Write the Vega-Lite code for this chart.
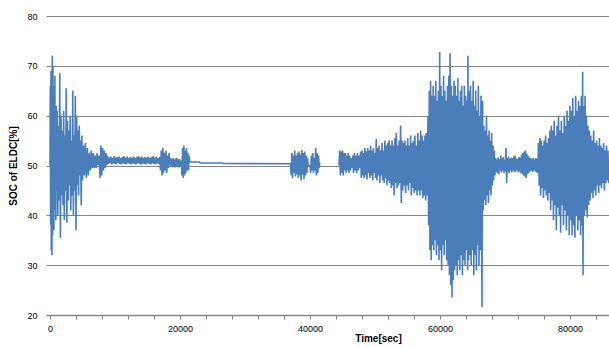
{
"$schema": "https://vega.github.io/schema/vega-lite/v6.json",
"width": 563, "height": 299,
"autosize": {"type": "none"},
"padding": {"left": 46, "top": 16, "right": 0, "bottom": 32},
"config": {"view": {"stroke": null}, "font": "Liberation Sans"},
"data": {"values": [
{"s":1,"t":0,"v":50},{"s":1,"t":50,"v":66},{"s":1,"t":100,"v":38},{"s":1,"t":150,"v":69},{"s":1,"t":200,"v":33},{"s":1,"t":250,"v":65},{"s":1,"t":300,"v":32},{"s":1,"t":350,"v":72},{"s":1,"t":400,"v":36},{"s":1,"t":450,"v":70},{"s":1,"t":500,"v":40},{"s":1,"t":550,"v":66},{"s":1,"t":600,"v":37},{"s":1,"t":650,"v":63},{"s":1,"t":700,"v":41},{"s":1,"t":750,"v":68},{"s":1,"t":800,"v":44},{"s":1,"t":850,"v":60},{"s":1,"t":900,"v":39},{"s":1,"t":950,"v":62},
{"s":1,"t":1000,"v":45},{"s":1,"t":1100,"v":61},{"s":1,"t":1200,"v":40},{"s":1,"t":1300,"v":58},{"s":1,"t":1400,"v":43},{"s":1,"t":1500,"v":68.5},{"s":1,"t":1600,"v":35.5},{"s":1,"t":1700,"v":60},{"s":1,"t":1800,"v":44},{"s":1,"t":1900,"v":57},{"s":1,"t":2000,"v":42},{"s":1,"t":2100,"v":61},{"s":1,"t":2200,"v":39},{"s":1,"t":2300,"v":56},{"s":1,"t":2400,"v":45},{"s":1,"t":2500,"v":65.5},{"s":1,"t":2600,"v":38.5},{"s":1,"t":2700,"v":59},{"s":1,"t":2800,"v":43},{"s":1,"t":2900,"v":57},{"s":1,"t":3000,"v":46},{"s":1,"t":3100,"v":60},{"s":1,"t":3200,"v":41},{"s":1,"t":3300,"v":55},{"s":1,"t":3400,"v":44},{"s":1,"t":3500,"v":65},{"s":1,"t":3600,"v":40},{"s":1,"t":3700,"v":56},{"s":1,"t":3800,"v":45},{"s":1,"t":3900,"v":64},{"s":1,"t":4000,"v":37},{"s":1,"t":4100,"v":60},{"s":1,"t":4200,"v":46},{"s":1,"t":4300,"v":57},{"s":1,"t":4400,"v":44},{"s":1,"t":4500,"v":58},{"s":1,"t":4600,"v":48},{"s":1,"t":4700,"v":55},{"s":1,"t":4800,"v":42},{"s":1,"t":4900,"v":56},
{"s":1,"t":5000,"v":47},{"s":1,"t":5150,"v":54},{"s":1,"t":5300,"v":48},{"s":1,"t":5450,"v":54.5},{"s":1,"t":5600,"v":47.5},{"s":1,"t":5750,"v":53.5},{"s":1,"t":5900,"v":48},{"s":1,"t":6050,"v":52.5},{"s":1,"t":6200,"v":49},{"s":1,"t":6350,"v":53},{"s":1,"t":6500,"v":49.5},{"s":1,"t":6650,"v":52.5},{"s":1,"t":6800,"v":49.5},{"s":1,"t":6950,"v":52},{"s":1,"t":7100,"v":49.5},{"s":1,"t":7250,"v":52.5},{"s":1,"t":7400,"v":50},{"s":1,"t":7550,"v":52},
{"s":1,"t":7700,"v":47.5},{"s":1,"t":7830,"v":54},{"s":1,"t":7960,"v":48},{"s":1,"t":8090,"v":53.5},{"s":1,"t":8220,"v":49},{"s":1,"t":8350,"v":53},{"s":1,"t":8480,"v":49.5},{"s":1,"t":8610,"v":52.5},{"s":1,"t":8740,"v":50},{"s":1,"t":8870,"v":52},
{"s":1,"t":9000,"v":50.3},{"s":1,"t":9125,"v":51.6},{"s":1,"t":9250,"v":50.5},{"s":1,"t":9375,"v":51.8},{"s":1,"t":9500,"v":50.2},{"s":1,"t":9625,"v":51.5},{"s":1,"t":9750,"v":50.4},{"s":1,"t":9875,"v":51.9},{"s":1,"t":10000,"v":50.3},{"s":1,"t":10125,"v":51.6},{"s":1,"t":10250,"v":50.2},{"s":1,"t":10375,"v":51.7},{"s":1,"t":10500,"v":50.5},{"s":1,"t":10625,"v":51.8},{"s":1,"t":10750,"v":50.3},{"s":1,"t":10875,"v":51.5},{"s":1,"t":11000,"v":50.2},{"s":1,"t":11125,"v":51.7},{"s":1,"t":11250,"v":50.4},{"s":1,"t":11375,"v":51.9},{"s":1,"t":11500,"v":50.3},{"s":1,"t":11625,"v":51.6},{"s":1,"t":11750,"v":50.2},{"s":1,"t":11875,"v":51.8},{"s":1,"t":12000,"v":50.5},{"s":1,"t":12125,"v":51.5},{"s":1,"t":12250,"v":50.3},{"s":1,"t":12375,"v":51.7},{"s":1,"t":12500,"v":50.2},{"s":1,"t":12625,"v":51.6},{"s":1,"t":12750,"v":50.4},{"s":1,"t":12875,"v":51.8},{"s":1,"t":13000,"v":50.3},{"s":1,"t":13125,"v":51.5},{"s":1,"t":13250,"v":50.2},{"s":1,"t":13375,"v":51.7},{"s":1,"t":13500,"v":50.5},{"s":1,"t":13625,"v":51.9},{"s":1,"t":13750,"v":50.3},{"s":1,"t":13875,"v":51.6},{"s":1,"t":14000,"v":50.2},{"s":1,"t":14125,"v":51.8},{"s":1,"t":14250,"v":50.4},{"s":1,"t":14375,"v":51.5},{"s":1,"t":14500,"v":50.3},{"s":1,"t":14625,"v":51.7},{"s":1,"t":14750,"v":50.2},{"s":1,"t":14875,"v":51.6},{"s":1,"t":15000,"v":50.5},{"s":1,"t":15125,"v":51.8},{"s":1,"t":15250,"v":50.3},{"s":1,"t":15375,"v":51.5},{"s":1,"t":15500,"v":50.2},{"s":1,"t":15625,"v":51.7},{"s":1,"t":15750,"v":50.4},{"s":1,"t":15875,"v":51.9},{"s":1,"t":16000,"v":50.3},{"s":1,"t":16125,"v":51.6},{"s":1,"t":16250,"v":50.2},{"s":1,"t":16375,"v":51.8},{"s":1,"t":16500,"v":50.4},{"s":1,"t":16625,"v":51.5},{"s":1,"t":16750,"v":50.3},{"s":1,"t":16875,"v":51.7},
{"s":1,"t":17000,"v":49},{"s":1,"t":17120,"v":53},{"s":1,"t":17240,"v":48},{"s":1,"t":17360,"v":53.5},{"s":1,"t":17480,"v":48.5},{"s":1,"t":17600,"v":52.5},{"s":1,"t":17720,"v":49},{"s":1,"t":17840,"v":53},{"s":1,"t":17960,"v":48.5},{"s":1,"t":18080,"v":52},{"s":1,"t":18200,"v":49.5},{"s":1,"t":18320,"v":52.5},{"s":1,"t":18440,"v":50},
{"s":1,"t":18550,"v":51.5},{"s":1,"t":18650,"v":49.8},{"s":1,"t":18750,"v":51.3},{"s":1,"t":18850,"v":49.6},{"s":1,"t":18950,"v":51.5},{"s":1,"t":19050,"v":49.7},{"s":1,"t":19150,"v":51.2},{"s":1,"t":19250,"v":49.6},{"s":1,"t":19350,"v":51.4},{"s":1,"t":19450,"v":49.8},{"s":1,"t":19550,"v":51.5},{"s":1,"t":19650,"v":49.7},{"s":1,"t":19750,"v":51.2},{"s":1,"t":19850,"v":49.6},{"s":1,"t":19950,"v":51.3},{"s":1,"t":20050,"v":49.7},{"s":1,"t":20150,"v":51},{"s":1,"t":20250,"v":49.8},
{"s":1,"t":20300,"v":48},{"s":1,"t":20400,"v":53.5},{"s":1,"t":20500,"v":47.5},{"s":1,"t":20600,"v":54},{"s":1,"t":20700,"v":48},{"s":1,"t":20800,"v":53},{"s":1,"t":20900,"v":48.5},{"s":1,"t":21000,"v":53.5},{"s":1,"t":21100,"v":49},{"s":1,"t":21200,"v":52.5},{"s":1,"t":21300,"v":49},{"s":1,"t":21400,"v":52},
{"s":1,"t":21500,"v":50.7},{"s":1,"t":23000,"v":50.7},{"s":1,"t":23100,"v":50.5},{"s":1,"t":26500,"v":50.5},{"s":1,"t":26600,"v":50.4},{"s":1,"t":37000,"v":50.35},
{"s":1,"t":37100,"v":48},{"s":1,"t":37210,"v":52.5},{"s":1,"t":37320,"v":47.5},{"s":1,"t":37430,"v":52},{"s":1,"t":37540,"v":48.5},{"s":1,"t":37650,"v":53},{"s":1,"t":37760,"v":47.8},{"s":1,"t":37870,"v":52},{"s":1,"t":37980,"v":48.2},{"s":1,"t":38090,"v":52.5},{"s":1,"t":38200,"v":47.5},{"s":1,"t":38310,"v":52.8},{"s":1,"t":38420,"v":48},{"s":1,"t":38530,"v":52.2},{"s":1,"t":38640,"v":47},{"s":1,"t":38750,"v":53.1},{"s":1,"t":38860,"v":48.2},{"s":1,"t":38970,"v":52.5},{"s":1,"t":39080,"v":47.3},{"s":1,"t":39190,"v":52.8},{"s":1,"t":39300,"v":48},{"s":1,"t":39410,"v":52},{"s":1,"t":39520,"v":48.5},{"s":1,"t":39630,"v":51.5},
{"s":1,"t":39700,"v":50},{"s":1,"t":40000,"v":50},
{"s":1,"t":40100,"v":48.5},{"s":1,"t":40210,"v":52},{"s":1,"t":40320,"v":49},{"s":1,"t":40430,"v":52.5},{"s":1,"t":40540,"v":48.5},{"s":1,"t":40650,"v":51.5},{"s":1,"t":40760,"v":49},{"s":1,"t":40870,"v":53.5},{"s":1,"t":40980,"v":48},{"s":1,"t":41090,"v":52.5},{"s":1,"t":41200,"v":48.5},{"s":1,"t":41310,"v":52},{"s":1,"t":41420,"v":49.5},{"s":1,"t":41500,"v":50.5},
{"s":2,"t":44460,"v":50},{"s":2,"t":44570,"v":53},{"s":2,"t":44680,"v":48},{"s":2,"t":44790,"v":52.8},{"s":2,"t":44900,"v":48.5},{"s":2,"t":45010,"v":53},{"s":2,"t":45120,"v":48},{"s":2,"t":45230,"v":52.5},{"s":2,"t":45340,"v":49},{"s":2,"t":45450,"v":52.5},{"s":2,"t":45560,"v":48.5},{"s":2,"t":45670,"v":52},{"s":2,"t":45780,"v":49},{"s":2,"t":45890,"v":52.5},{"s":2,"t":46000,"v":48.5},{"s":2,"t":46110,"v":52},{"s":2,"t":46220,"v":49},{"s":2,"t":46330,"v":51.5},
{"s":2,"t":46460,"v":49.5},{"s":2,"t":46580,"v":52},{"s":2,"t":46700,"v":48.5},{"s":2,"t":46820,"v":52.5},{"s":2,"t":46940,"v":49},{"s":2,"t":47060,"v":52},{"s":2,"t":47180,"v":48.5},{"s":2,"t":47300,"v":52.5},{"s":2,"t":47420,"v":49},{"s":2,"t":47540,"v":52},{"s":2,"t":47660,"v":49.5},
{"s":2,"t":47780,"v":52.8},{"s":2,"t":47890,"v":47.5},{"s":2,"t":48000,"v":53},{"s":2,"t":48110,"v":48},{"s":2,"t":48220,"v":52.5},{"s":2,"t":48330,"v":47.5},{"s":2,"t":48440,"v":53.5},{"s":2,"t":48550,"v":48},{"s":2,"t":48660,"v":52.8},{"s":2,"t":48770,"v":47.2},{"s":2,"t":48880,"v":53.5},{"s":2,"t":48990,"v":48.5},{"s":2,"t":49100,"v":53},{"s":2,"t":49210,"v":47.5},{"s":2,"t":49320,"v":54},{"s":2,"t":49430,"v":48},{"s":2,"t":49540,"v":53},{"s":2,"t":49650,"v":47},{"s":2,"t":49760,"v":53.5},{"s":2,"t":49870,"v":48.5},{"s":2,"t":49980,"v":52.5},{"s":2,"t":50090,"v":47.5},{"s":2,"t":50200,"v":55.3},{"s":2,"t":50310,"v":47},{"s":2,"t":50420,"v":53.5},{"s":2,"t":50530,"v":48},{"s":2,"t":50640,"v":54},{"s":2,"t":50750,"v":46.5},{"s":2,"t":50860,"v":53},{"s":2,"t":50970,"v":48},{"s":2,"t":51080,"v":54.5},{"s":2,"t":51190,"v":47},{"s":2,"t":51300,"v":53},{"s":2,"t":51410,"v":46.5},{"s":2,"t":51520,"v":55},{"s":2,"t":51630,"v":47.5},{"s":2,"t":51740,"v":54},{"s":2,"t":51850,"v":46},{"s":2,"t":51960,"v":54.5},{"s":2,"t":52070,"v":47},{"s":2,"t":52180,"v":55},{"s":2,"t":52290,"v":46.5},{"s":2,"t":52400,"v":54},{"s":2,"t":52510,"v":45.5},{"s":2,"t":52620,"v":55},{"s":2,"t":52730,"v":46},{"s":2,"t":52840,"v":54},{"s":2,"t":52950,"v":44},{"s":2,"t":53060,"v":55.5},{"s":2,"t":53170,"v":46.5},{"s":2,"t":53280,"v":56.5},{"s":2,"t":53390,"v":45.5},{"s":2,"t":53500,"v":54},{"s":2,"t":53610,"v":46},{"s":2,"t":53720,"v":55},{"s":2,"t":53830,"v":46.5},
{"s":2,"t":53940,"v":58},{"s":2,"t":54050,"v":42.5},{"s":2,"t":54160,"v":55},{"s":2,"t":54270,"v":45},{"s":2,"t":54380,"v":54.5},{"s":2,"t":54490,"v":46},{"s":2,"t":54600,"v":55},{"s":2,"t":54710,"v":44.5},{"s":2,"t":54820,"v":54},{"s":2,"t":54930,"v":46},{"s":2,"t":55040,"v":55.5},{"s":2,"t":55150,"v":45},{"s":2,"t":55260,"v":54},{"s":2,"t":55370,"v":46.5},{"s":2,"t":55480,"v":56},{"s":2,"t":55590,"v":44},{"s":2,"t":55700,"v":54.5},{"s":2,"t":55810,"v":45.5},{"s":2,"t":55920,"v":55},{"s":2,"t":56030,"v":44.5},{"s":2,"t":56140,"v":56},{"s":2,"t":56250,"v":45},{"s":2,"t":56360,"v":54},{"s":2,"t":56470,"v":44},{"s":2,"t":56580,"v":56.5},{"s":2,"t":56690,"v":45},{"s":2,"t":56800,"v":55},{"s":2,"t":56910,"v":44},{"s":2,"t":57020,"v":57},{"s":2,"t":57130,"v":45},{"s":2,"t":57240,"v":56},{"s":2,"t":57350,"v":43.5},{"s":2,"t":57460,"v":55},{"s":2,"t":57570,"v":44},{"s":2,"t":57680,"v":56},{"s":2,"t":57790,"v":43},{"s":2,"t":57900,"v":56.5},{"s":2,"t":58010,"v":44},
{"s":2,"t":58150,"v":60},{"s":2,"t":58250,"v":38},{"s":2,"t":58350,"v":65},{"s":2,"t":58450,"v":33},{"s":2,"t":58550,"v":67},{"s":2,"t":58650,"v":31},{"s":2,"t":58750,"v":64},{"s":2,"t":58850,"v":34},
{"s":2,"t":58950,"v":66},{"s":2,"t":59050,"v":33},{"s":2,"t":59150,"v":64},{"s":2,"t":59250,"v":35},{"s":2,"t":59350,"v":67},{"s":2,"t":59450,"v":32},{"s":2,"t":59550,"v":63},{"s":2,"t":59650,"v":34},{"s":2,"t":59750,"v":65},{"s":2,"t":59850,"v":31},{"s":2,"t":59950,"v":72.8},{"s":2,"t":60050,"v":33},{"s":2,"t":60150,"v":66},{"s":2,"t":60250,"v":29},{"s":2,"t":60350,"v":64},{"s":2,"t":60450,"v":34},{"s":2,"t":60550,"v":68},{"s":2,"t":60650,"v":32},{"s":2,"t":60750,"v":65},{"s":2,"t":60850,"v":35},{"s":2,"t":60950,"v":63},
{"s":2,"t":61050,"v":31},{"s":2,"t":61150,"v":66},{"s":2,"t":61250,"v":30},{"s":2,"t":61350,"v":68},{"s":2,"t":61450,"v":28},{"s":2,"t":61550,"v":72.5},{"s":2,"t":61650,"v":26},{"s":2,"t":61750,"v":66},{"s":2,"t":61850,"v":23.5},{"s":2,"t":61950,"v":64},{"s":2,"t":62050,"v":27},{"s":2,"t":62150,"v":67},{"s":2,"t":62250,"v":29},
{"s":2,"t":62350,"v":66},{"s":2,"t":62450,"v":30},{"s":2,"t":62550,"v":64},{"s":2,"t":62650,"v":28},{"s":2,"t":62750,"v":67.5},{"s":2,"t":62850,"v":31},{"s":2,"t":62950,"v":63},{"s":2,"t":63050,"v":29},{"s":2,"t":63150,"v":65},{"s":2,"t":63250,"v":32},{"s":2,"t":63350,"v":66},{"s":2,"t":63450,"v":28},{"s":2,"t":63550,"v":62},{"s":2,"t":63650,"v":31},{"s":2,"t":63750,"v":66},{"s":2,"t":63850,"v":30},{"s":2,"t":63950,"v":64},{"s":2,"t":64050,"v":33},{"s":2,"t":64150,"v":63},{"s":2,"t":64250,"v":29},{"s":2,"t":64300,"v":72},{"s":2,"t":64400,"v":31},{"s":2,"t":64500,"v":65},{"s":2,"t":64600,"v":32},
{"s":2,"t":64700,"v":66},{"s":2,"t":64800,"v":30},{"s":2,"t":64900,"v":63},{"s":2,"t":65000,"v":33},{"s":2,"t":65100,"v":67},{"s":2,"t":65200,"v":28},{"s":2,"t":65300,"v":62},{"s":2,"t":65400,"v":32},{"s":2,"t":65500,"v":65},{"s":2,"t":65600,"v":29},{"s":2,"t":65700,"v":61},{"s":2,"t":65800,"v":34},{"s":2,"t":65900,"v":66},{"s":2,"t":66000,"v":30},{"s":2,"t":66100,"v":60},{"s":2,"t":66200,"v":33},{"s":2,"t":66300,"v":64},{"s":2,"t":66400,"v":36},{"s":2,"t":66460,"v":21.6},{"s":2,"t":66550,"v":63},
{"s":2,"t":66650,"v":41},{"s":2,"t":66750,"v":58},{"s":2,"t":66850,"v":43},{"s":2,"t":66950,"v":57},{"s":2,"t":67050,"v":42},{"s":2,"t":67150,"v":60},{"s":2,"t":67250,"v":44},{"s":2,"t":67350,"v":56},{"s":2,"t":67450,"v":42.5},{"s":2,"t":67550,"v":57},{"s":2,"t":67650,"v":45},{"s":2,"t":67750,"v":55},{"s":2,"t":67850,"v":44},{"s":2,"t":67950,"v":56.5},{"s":2,"t":68050,"v":46},{"s":2,"t":68150,"v":54},{"s":2,"t":68250,"v":47},{"s":2,"t":68350,"v":53},{"s":2,"t":68450,"v":48},
{"s":2,"t":68550,"v":51.5},{"s":2,"t":68650,"v":48.7},{"s":2,"t":68750,"v":51.2},{"s":2,"t":68850,"v":48.5},{"s":2,"t":68950,"v":51.6},{"s":2,"t":69050,"v":48.3},{"s":2,"t":69150,"v":51.3},{"s":2,"t":69250,"v":49},{"s":2,"t":69350,"v":52},{"s":2,"t":69450,"v":48.6},{"s":2,"t":69550,"v":51.4},{"s":2,"t":69650,"v":49},{"s":2,"t":69750,"v":51.7},{"s":2,"t":69850,"v":48.5},{"s":2,"t":69950,"v":51.2},{"s":2,"t":70050,"v":48.8},{"s":2,"t":70150,"v":53.5},{"s":2,"t":70250,"v":46.5},{"s":2,"t":70350,"v":51.5},{"s":2,"t":70450,"v":48.7},{"s":2,"t":70550,"v":51.8},{"s":2,"t":70650,"v":48.5},{"s":2,"t":70750,"v":51.3},{"s":2,"t":70850,"v":49},{"s":2,"t":70950,"v":51.6},{"s":2,"t":71050,"v":48.6},{"s":2,"t":71150,"v":51.5},{"s":2,"t":71250,"v":49},{"s":2,"t":71350,"v":51.8},{"s":2,"t":71450,"v":48.7},{"s":2,"t":71550,"v":52},{"s":2,"t":71650,"v":48.8},{"s":2,"t":71750,"v":51.4},{"s":2,"t":71850,"v":49},{"s":2,"t":71950,"v":51.3},{"s":2,"t":72050,"v":48.6},{"s":2,"t":72150,"v":51.7},{"s":2,"t":72250,"v":48.8},{"s":2,"t":72350,"v":51.6},{"s":2,"t":72450,"v":48.5},{"s":2,"t":72550,"v":52.2},{"s":2,"t":72650,"v":48.3},{"s":2,"t":72750,"v":52.5},{"s":2,"t":72850,"v":48},{"s":2,"t":72950,"v":52.8},{"s":2,"t":73050,"v":47.8},{"s":2,"t":73150,"v":53},{"s":2,"t":73250,"v":47.5},{"s":2,"t":73350,"v":52.4},{"s":2,"t":73450,"v":48.2},{"s":2,"t":73550,"v":52},{"s":2,"t":73650,"v":48.5},{"s":2,"t":73750,"v":51.6},{"s":2,"t":73850,"v":48.8},{"s":2,"t":73950,"v":51.5},{"s":2,"t":74050,"v":49},{"s":2,"t":74150,"v":51.3},{"s":2,"t":74250,"v":48.7},{"s":2,"t":74350,"v":51.5},{"s":2,"t":74450,"v":49},{"s":2,"t":74550,"v":51.2},{"s":2,"t":74650,"v":48.8},{"s":2,"t":74750,"v":51.5},{"s":2,"t":74850,"v":48.6},{"s":2,"t":74950,"v":51.3},{"s":2,"t":75050,"v":48.5},
{"s":2,"t":75150,"v":54.5},{"s":2,"t":75260,"v":46},{"s":2,"t":75370,"v":55.5},{"s":2,"t":75480,"v":44},{"s":2,"t":75590,"v":55},{"s":2,"t":75700,"v":45.5},{"s":2,"t":75810,"v":54},{"s":2,"t":75920,"v":43.5},{"s":2,"t":76030,"v":55},{"s":2,"t":76140,"v":45},{"s":2,"t":76250,"v":56},{"s":2,"t":76360,"v":44},{"s":2,"t":76470,"v":54.5},{"s":2,"t":76580,"v":43},{"s":2,"t":76690,"v":55.5},{"s":2,"t":76800,"v":44.5},{"s":2,"t":76910,"v":57},
{"s":2,"t":77020,"v":41},{"s":2,"t":77130,"v":58},{"s":2,"t":77240,"v":43},{"s":2,"t":77350,"v":57},{"s":2,"t":77460,"v":39},{"s":2,"t":77570,"v":59},{"s":2,"t":77680,"v":42},{"s":2,"t":77790,"v":56},{"s":2,"t":77900,"v":37},{"s":2,"t":78010,"v":58},{"s":2,"t":78120,"v":41.5},{"s":2,"t":78230,"v":60},{"s":2,"t":78340,"v":40},{"s":2,"t":78450,"v":57},{"s":2,"t":78560,"v":36.5},{"s":2,"t":78670,"v":59},{"s":2,"t":78780,"v":42},{"s":2,"t":78890,"v":56.5},{"s":2,"t":79000,"v":38},{"s":2,"t":79110,"v":60},{"s":2,"t":79220,"v":41},{"s":2,"t":79330,"v":58},{"s":2,"t":79440,"v":37},{"s":2,"t":79550,"v":61},{"s":2,"t":79660,"v":40},{"s":2,"t":79770,"v":59},{"s":2,"t":79880,"v":36},{"s":2,"t":79990,"v":62},
{"s":2,"t":80100,"v":39},{"s":2,"t":80210,"v":61},{"s":2,"t":80320,"v":36},{"s":2,"t":80430,"v":63.5},{"s":2,"t":80540,"v":38},{"s":2,"t":80650,"v":60},{"s":2,"t":80760,"v":35.5},{"s":2,"t":80870,"v":64},{"s":2,"t":80980,"v":40},{"s":2,"t":81090,"v":61},{"s":2,"t":81200,"v":37},{"s":2,"t":81310,"v":63},{"s":2,"t":81420,"v":39},{"s":2,"t":81530,"v":62},{"s":2,"t":81640,"v":36},{"s":2,"t":81750,"v":64},{"s":2,"t":81860,"v":38},{"s":2,"t":81950,"v":68.8},{"s":2,"t":82000,"v":28},
{"s":2,"t":82100,"v":62},{"s":2,"t":82210,"v":40},{"s":2,"t":82320,"v":64},{"s":2,"t":82430,"v":41},{"s":2,"t":82540,"v":60},{"s":2,"t":82650,"v":39.6},{"s":2,"t":82760,"v":58},{"s":2,"t":82870,"v":42},{"s":2,"t":82980,"v":57},
{"s":2,"t":83090,"v":43},{"s":2,"t":83200,"v":56},{"s":2,"t":83310,"v":44.5},{"s":2,"t":83420,"v":55},{"s":2,"t":83530,"v":43.5},{"s":2,"t":83640,"v":57},{"s":2,"t":83750,"v":45},{"s":2,"t":83860,"v":54.5},{"s":2,"t":83970,"v":44},{"s":2,"t":84080,"v":55},{"s":2,"t":84190,"v":46},{"s":2,"t":84300,"v":54},{"s":2,"t":84410,"v":44.5},{"s":2,"t":84520,"v":55.5},{"s":2,"t":84630,"v":46},{"s":2,"t":84740,"v":54},{"s":2,"t":84850,"v":45.5},{"s":2,"t":84960,"v":53.5},{"s":2,"t":85070,"v":46.5},{"s":2,"t":85180,"v":54.5},{"s":2,"t":85290,"v":45},{"s":2,"t":85400,"v":53},{"s":2,"t":85510,"v":46.5},{"s":2,"t":85620,"v":54},{"s":2,"t":85730,"v":47},{"s":2,"t":85840,"v":53},{"s":2,"t":85950,"v":46.5},{"s":2,"t":86000,"v":50}
]},
"mark": {"type": "line", "color": "#4a7ebb", "strokeWidth": 1.6, "clip": true},
"encoding": {
  "x": {"field": "t", "type": "quantitative", "sort": null,
    "scale": {"domain": [-615, 86000], "nice": false, "zero": false},
    "axis": {"values": [0,4000,8000,12000,16000,20000,24000,28000,32000,36000,40000,44000,48000,52000,56000,60000,64000,68000,72000,76000,80000,84000],
      "labelExpr": "datum.value % 20000 === 0 ? datum.label : ''", "format": "d",
      "grid": false, "domainColor": "#868686", "domainWidth": 1.5, "tickColor": "#868686", "tickSize": 4,
      "labelPadding": 5, "labelFontSize": 9, "labelColor": "#000000", "labelFlush": false, "labelOverlap": false,
      "title": "Time[sec]", "titleFontSize": 10, "titleFontWeight": "bold", "titleColor": "#000000",
      "titleX": 332, "titleY": 18, "titleBaseline": "top", "titleAlign": "center"}},
  "y": {"field": "v", "type": "quantitative",
    "scale": {"domain": [20, 80], "nice": false, "zero": false},
    "axis": {"values": [20,30,40,50,60,70,80], "grid": true, "gridColor": "#868686", "gridWidth": 1,
      "domain": false, "ticks": false, "labelPadding": 9, "labelFontSize": 9, "labelColor": "#000000",
      "title": "SOC of ELDC[%]", "titleFontSize": 10, "titleFontWeight": "bold", "titleColor": "#000000", "titlePadding": 8}},
  "detail": {"field": "s", "type": "nominal"}
}
}
